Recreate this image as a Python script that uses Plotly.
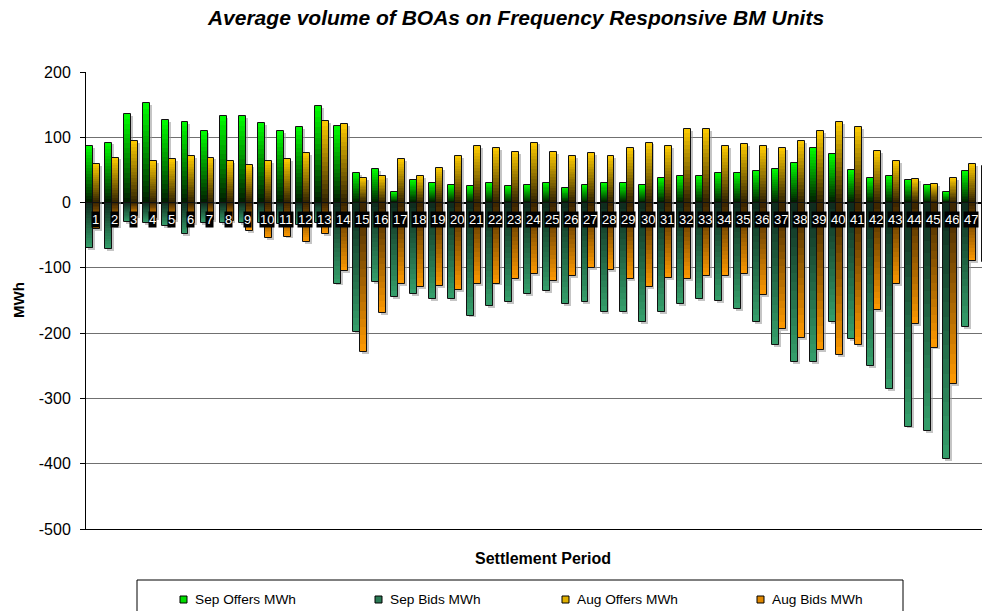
import plotly.graph_objects as go

# ---------------- data ----------------
periods = list(range(1, 49))
period_labels = [str(p) for p in periods]

sep_offers = [87, 92, 136, 152, 126, 124, 110, 133, 132, 122, 110, 116, 148, 117, 46, 51,
              16, 35, 30, 27, 25, 30, 25, 27, 30, 23, 27, 30, 30, 27, 38, 41,
              41, 46, 46, 48, 51, 61, 84, 74, 50, 38, 41, 35, 27, 16, 48, 56]
sep_bids = [-69, -71, -30, -31, -36, -48, -31, -32, -32, -32, -33, -35, -32, -124, -199, -122,
            -144, -140, -147, -147, -173, -158, -153, -140, -136, -156, -153, -167, -167, -183, -168, -155,
            -148, -151, -163, -183, -218, -244, -244, -183, -209, -250, -286, -343, -350, -393, -191, -91]
aug_offers = [59, 69, 95, 64, 66, 71, 69, 64, 58, 64, 66, 76, 125, 120, 38, 41,
              66, 41, 53, 72, 86, 83, 78, 92, 78, 71, 76, 71, 84, 92, 87, 113,
              113, 87, 90, 86, 84, 95, 110, 124, 115, 79, 63, 36, 28, 38, 59, 55]
aug_bids = [-41, -36, -21, -23, -26, -31, -26, -28, -43, -55, -52, -60, -48, -105, -229, -169,
            -125, -130, -128, -134, -125, -124, -117, -110, -120, -113, -100, -104, -117, -130, -115, -117,
            -113, -112, -110, -142, -193, -207, -226, -234, -218, -165, -125, -186, -222, -278, -90, -80]

series_names = ["Sep Offers MWh", "Sep Bids MWh", "Aug Offers MWh", "Aug Bids MWh"]
y_tick_vals = [200, 100, 0, -100, -200, -300, -400, -500]
y_tick_text = ["200", "100", "0", "-100", "-200", "-300", "-400", "-500"]

# ---------------- layout constants ----------------
# the page body adds an 8px margin, so figure coords = screen coords - 8
SH = 8
W, H = 990, 611
L, R, T, B = 78, 0, 64, 90
FONT = "Liberation Sans, Arial, sans-serif"
BW = 0.365  # bar width in category units


def hex2rgb(h):
    h = h.lstrip("#")
    return tuple(int(h[i:i + 2], 16) for i in (0, 2, 4))


def mix(c_near, c_far, t):
    a, b = hex2rgb(c_near), hex2rgb(c_far)
    return "rgb(%d,%d,%d)" % tuple(round(a[i] + (b[i] - a[i]) * t) for i in range(3))


# (values, offset, colour near zero, colour at bar end)
specs = [
    (sep_offers, -BW, "#001c00", "#00ff00"),
    (sep_bids, -BW, "#0e2a1c", "#35a06c"),
    (aug_offers, 0.0, "#302200", "#ffcc00"),
    (aug_bids, 0.0, "#3a2400", "#ff9a00"),
]

fig = go.Figure()
N = 18
# shadows
for vals, off, cn, cf in specs:
    fig.add_trace(go.Bar(x=periods, y=vals, base=-3, offset=off + 0.1, width=BW,
                         marker=dict(color="rgba(150,150,150,0.55)", line=dict(width=0)),
                         showlegend=False, hoverinfo="skip"))
# gradient layers
for vals, off, cn, cf in specs:
    for i in range(N):
        f = 1 - i / N
        fm = 1 - (i + 0.5) / N
        fig.add_trace(go.Bar(x=periods, y=[v * f for v in vals], offset=off, width=BW,
                             marker=dict(color=mix(cn, cf, fm), line=dict(width=0)),
                             showlegend=False, hoverinfo="skip"))
# outlines
for (vals, off, cn, cf), name in zip(specs, series_names):
    fig.add_trace(go.Bar(x=periods, y=vals, offset=off, width=BW, name=name,
                         marker=dict(color="rgba(0,0,0,0)", line=dict(width=1, color="#111111")),
                         showlegend=False))

annotations = []
# category labels in black boxes
for p, lab in zip(periods, period_labels):
    annotations.append(dict(x=p + 0.1, y=-26, xref="x", yref="y", text=lab, showarrow=False,
                            xanchor="center", yanchor="middle",
                            font=dict(family=FONT, size=13, color="white"),
                            bgcolor="black", borderpad=0))

pw = W - L - R
ph = H - T - B


def px_x(px):
    return (px - SH - L) / pw


def px_y(py):
    return (H - B - (py - SH)) / ph


# axis titles
annotations.append(dict(x=px_x(543), y=px_y(558), xref="paper", yref="paper", text="Settlement Period",
                        xanchor="center", yanchor="middle", showarrow=False,
                        font=dict(family=FONT, size=16, color="black", weight="bold")))
annotations.append(dict(x=px_x(18), y=px_y(300), xref="paper", yref="paper", text="MWh", textangle=-90,
                        xanchor="center", yanchor="middle", showarrow=False,
                        font=dict(family=FONT, size=15, color="black", weight="bold")))

shapes = []
# legend box
shapes.append(dict(type="rect", xref="paper", yref="paper", x0=px_x(137), x1=px_x(903),
                   y0=px_y(630), y1=px_y(580), line=dict(color="black", width=1), fillcolor="white"))
leg_sq = [180, 375, 562, 757]
leg_fill = ["#00dd00", "#2a7a55", "#e0b000", "#e08800"]
for sx, name, fc in zip(leg_sq, series_names, leg_fill):
    shapes.append(dict(type="rect", xref="paper", yref="paper", x0=px_x(sx), x1=px_x(sx + 7),
                       y0=px_y(603), y1=px_y(596), line=dict(color="black", width=1), fillcolor=fc))
    annotations.append(dict(x=px_x(sx + 13), y=px_y(599.5), xref="paper", yref="paper", text=name,
                            xanchor="left", yanchor="middle", showarrow=False,
                            font=dict(family=FONT, size=13.7, color="black")))

fig.update_layout(
    width=W, height=H, autosize=False,
    margin=dict(l=L, r=R, t=T, b=B),
    paper_bgcolor="white", plot_bgcolor="white",
    barmode="overlay", bargap=0,
    title=dict(text="Average volume of BOAs on Frequency Responsive BM Units",
               x=(516 - SH) / W, xanchor="center", xref="container",
               y=1 - (18 - SH) / H, yanchor="middle", yref="container",
               font=dict(family=FONT, size=21, color="black", weight="bold", style="italic")),
    xaxis=dict(range=[0.62, 48.5], showticklabels=False, ticks="", showgrid=False,
               zeroline=False, showline=True, linecolor="black", linewidth=1),
    yaxis=dict(range=[-500, 200], tickvals=y_tick_vals, ticktext=y_tick_text,
               ticks="outside", ticklen=5,
               tickcolor="black", showline=True, linecolor="black", linewidth=1,
               gridcolor="#707070", gridwidth=1.4, zeroline=True, zerolinecolor="black",
               zerolinewidth=1.5, ticklabelstandoff=6,
               tickfont=dict(family=FONT, size=16, color="black")),
    annotations=annotations, shapes=shapes,
    showlegend=False,
)

fig.write_html("out.html")
